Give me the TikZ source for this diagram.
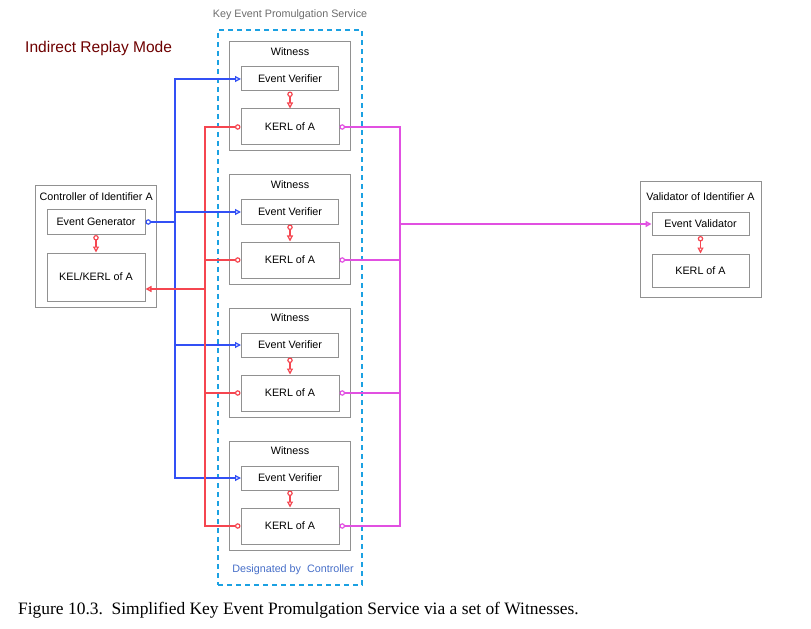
\documentclass[tikz,border=0pt]{standalone}
\usepackage{fontspec}
\setmainfont{Liberation Serif}
\setsansfont{Liberation Sans}
\usetikzlibrary{arrows.meta}
\definecolor{boxgray}{RGB}{145,145,145}
\definecolor{dashblue}{RGB}{27,161,226}
\definecolor{cblue}{RGB}{50,80,245}
\definecolor{cred}{RGB}{245,70,80}
\definecolor{cmag}{RGB}{225,80,225}
\definecolor{titlered}{RGB}{110,0,0}
\definecolor{desblue}{RGB}{70,110,200}
\tikzset{
  lbl/.style={font=\sffamily\fontsize{10.8}{13}\selectfont, inner sep=0pt},
  box/.style={draw=boxgray, line width=1bp, fill=white, inner sep=0pt, lbl},
  circ/.style={{Circle[open,length=5.5bp,fill=white]}-},
  tip/.style={-{Triangle[open,length=6bp,width=6bp,fill=white]}},
  circtip/.style={{Circle[open,length=5.5bp,fill=white]}-{Triangle[open,length=6bp,width=6bp,fill=white]}},
  wire/.style={line width=1.2bp},
}
\begin{document}
\begin{tikzpicture}[x=1bp,y=-1bp]
\useasboundingbox (0,0) rectangle (811,629);
% titles
\node[lbl, anchor=west, text=titlered, font=\sffamily\fontsize{15.6}{19}\selectfont] (title) at (25,48) {Indirect Replay Mode};
\node[lbl, text=gray!85!black] (kepsT) at (290,15) {Key Event Promulgation Service};
% dashed service box
\node[draw=dashblue, dashed, dash pattern=on 5bp off 4bp, line width=1.1bp, minimum width=144bp, minimum height=555bp] (keps) at (290,307.5) {};
\node[lbl, text=desblue] (desg) at (293,570) {Designated by\ \ Controller};
% controller
\node[box, minimum width=121bp, minimum height=121bp] (ctrl) at (96.2,246.5) {};
\node[lbl] (ctrlT) at (96.2,197) {Controller of Identifier A};
\node[box, minimum width=98bp, minimum height=25bp] (gen) at (96,222) {Event Generator};
\node[box, minimum width=98bp, minimum height=48bp] (kel) at (96,277) {KEL/KERL of A};
% validator
\node[box, minimum width=121bp, minimum height=115bp] (valb) at (700.5,239.5) {};
\node[lbl] (valT) at (700.5,197) {Validator of Identifier A};
\node[box, minimum width=97bp, minimum height=23bp] (val) at (700.5,224) {Event Validator};
\node[box, minimum width=97bp, minimum height=33bp] (vkerl) at (700.5,270.5) {KERL of A};
% buses
\coordinate (bb) at (175,222);
\coordinate (rb) at (205,289);
\coordinate (mb) at (400,224);
% witnesses
\foreach \i in {0,1,2,3}{
  \pgfmathsetmacro{\yo}{133*\i}
  \node[box, minimum width=121bp, minimum height=109bp] (w\i) at (290,96.5+\yo) {};
  \node[lbl] (wt\i) at (290,52+\yo) {Witness};
  \node[box, minimum width=97bp, minimum height=24bp] (ver\i) at (290,79+\yo) {Event Verifier};
  \node[box, minimum width=98bp, minimum height=36bp] (kerl\i) at (290,127+\yo) {KERL of A};
  \draw[cred, wire, circtip] (ver\i.south) -- (kerl\i.north);
  \draw[cblue, wire, tip] (bb) |- (ver\i.west);
  \draw[cred, wire, circ] (kerl\i.west) -| (rb);
  \draw[cmag, wire, circ] (kerl\i.east) -| (mb);
}
\draw[cblue, wire, circ] (gen.east) -- (bb);
\draw[cred, line width=1.6bp, tip] (rb) -- (kel.east |- rb);
\draw[cmag, line width=1.8bp, tip] (mb) -- (val.west);
\draw[cred, wire, circtip] (gen.south) -- (kel.north);
\draw[cred, wire, circtip] (val.south) -- (vkerl.north);
% caption
\node[anchor=base west, inner sep=0pt, font=\fontsize{17.5}{21}\selectfont] (cap) at (18,614) {Figure 10.3.\ \ Simplified Key Event Promulgation Service via a set of Witnesses.};
\end{tikzpicture}
\end{document}
